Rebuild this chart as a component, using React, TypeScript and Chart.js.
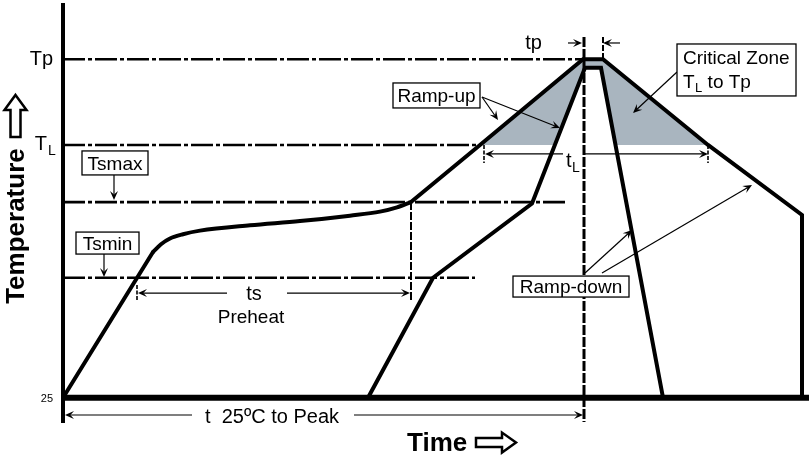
import { useEffect, useRef } from 'react';
import { Chart, registerables } from 'chart.js';

Chart.register(...registerables);

const FONT = '"Liberation Sans", Arial, Helvetica, sans-serif';

// ---- Data (time in s, temperature in °C, schematic) ----
const levelNames = ['Tp', 'TL', 'Tsmax', 'Tsmin'];
const levelTemps = [262, 202, 162, 109];
const levelLineEnds = [260, 208.5, 252.5, 206];

const baseTemp = 25;
const timeMax = 373;

// outer profile: preheat ramp, soak curve, peak profile
const rampTime = [0, 45];
const rampTemp = [25, 127];
const soakTime = [45, 49, 53.5, 60, 68.5, 93.5, 118.5, 143.5, 158.5, 167, 174];
const soakTemp = [127, 132.5, 136.5, 139.5, 142, 145.8, 148.7, 152.5, 155.3, 158.3, 162];
const peakTime = [174, 208.5, 260, 270, 322.5, 369.5, 369.5];
const peakTemp = [162, 202, 262, 262, 202, 153, 25];

const innerTime = [152.5, 185, 234.5, 261, 269, 300];
const innerTemp = [25, 109, 161, 256, 256, 25];

const zoneOuterTime = [208.5, 260, 270, 322.5];
const zoneOuterTemp = [202, 262, 262, 202];
const zoneInnerTime = [246, 261, 269, 276.2];
const zoneInnerTemp = [202, 256, 256, 202];

// vertical markers: [time, fromTemp, toTemp]
const markerTp1 = [260.5, 277.6, 8];
const markerTp2 = [270, 277.6, 262];
const markerTs = [174, 162, 92];

const yTickValues = [25, 202, 262];
const yTickMain = ['25', 'T', 'Tp'];
const yTickSub = ['', 'L', ''];

// ---- Annotations (data units) ----
const pointerArrows = [
  [25.5, 181.0, 25.5, 163.5],
  [20.5, 125.6, 20.5, 109.5],
  [209.5, 235.6, 217.5, 219.5],
  [209.5, 235.6, 248.5, 213.9],
  [307, 253.1, 285, 224.4],
  [261, 112.3, 284.5, 142.4],
  [269.5, 112.3, 344.5, 174.0],
];
const spanArrows = [
  [252.5, 273.4, 259.5, 273.4],
  [278.5, 273.4, 270, 273.4],
  [250, 195.7, 211, 195.7],
  [260.5, 195.7, 322.5, 195.7],
  [82, 98.3, 37.5, 98.3],
  [112, 98.3, 173.5, 98.3],
  [64.5, 12.9, 1, 12.9],
  [145.5, 12.9, 260, 12.9],
];
const spanTicks = [
  [210.5, 202, 210.5, 189.4],
  [322.5, 202, 322.5, 189.4],
  [37, 103.9, 37, 93.4],
];
const boxes = [
  { text: 'Tsmax', x1: 9.5, y1: 197.8, x2: 42.5, y2: 181.0 },
  { text: 'Tsmin', x1: 6.5, y1: 141.0, x2: 38, y2: 125.6 },
  { text: 'Ramp-up', x1: 165, y1: 245.4, x2: 208.5, y2: 227.9 },
  { text: 'Ramp-down', x1: 225, y1: 110.2, x2: 283, y2: 95.5 },
  { text: '', x1: 307, y1: 272.7, x2: 366.5, y2: 236.3 },
];
const labels = [
  { t: 'ts', x: 95.5, y: 93.6, size: 20, align: 'center' },
  { t: 'Preheat', x: 94, y: 77.3, size: 19, align: 'center' },
  { t: 't  25ºC to Peak', x: 104.5, y: 7.3, size: 20, align: 'center' },
  { t: 'tp', x: 235.25, y: 269.2, size: 20, align: 'center' },
  { t: 'Critical Zone', x: 310, y: 259.0, size: 19, align: 'left' },
];
const subLabels = [
  { main: 't', sub: 'L', tail: '', x: 251.5, y: 186.6, ySub: 183.1, size: 20, subSize: 14 },
  { main: 'T', sub: 'L', tail: ' to Tp', x: 310, y: 241.9, ySub: 239.1, size: 19, subSize: 13 },
];
const yTitle = { t: 'Temperature', x: -19.5, y: 145.2, arrowX: -23.75, arrowY: 237 };
const xTitle = { t: 'Time', x: 172, y: -12.3, arrowX: 226.5, arrowY: -6.4 };

const GREY = '#a9b5bf';

function pts(xs: number[], ys: number[]) {
  return xs.map((x, i) => ({ x, y: ys[i] }));
}

function drawHead(ctx: CanvasRenderingContext2D, x1: number, y1: number, x2: number, y2: number) {
  const a = Math.atan2(y2 - y1, x2 - x1);
  const c = Math.cos(a), s = Math.sin(a);
  const len = 9, half = 4;
  const bx = x2 - len * c, by = y2 - len * s;
  const nx = x2 - len * 0.6 * c, ny = y2 - len * 0.6 * s;
  ctx.beginPath();
  ctx.moveTo(x1, y1);
  ctx.lineTo(nx, ny);
  ctx.stroke();
  ctx.beginPath();
  ctx.moveTo(x2, y2);
  ctx.lineTo(bx - half * s, by + half * c);
  ctx.lineTo(nx, ny);
  ctx.lineTo(bx + half * s, by - half * c);
  ctx.closePath();
  ctx.fill();
}

const annotationPlugin = {
  id: 'reflowAnnotations',
  afterDatasetsDraw(chart: any) {
    const { ctx } = chart;
    const xs = chart.scales.x;
    const ys = chart.scales.y;
    const px = (v: number) => xs.getPixelForValue(v);
    const py = (v: number) => ys.getPixelForValue(v);
    ctx.save();
    ctx.fillStyle = '#000';
    ctx.strokeStyle = '#000';
    ctx.lineWidth = 1.2;
    ctx.setLineDash([]);

    for (const a of [...pointerArrows, ...spanArrows]) {
      drawHead(ctx, px(a[0]), py(a[1]), px(a[2]), py(a[3]));
    }
    ctx.lineWidth = 1.6;
    ctx.setLineDash([4, 1.5]);
    for (const t of spanTicks) {
      ctx.beginPath();
      ctx.moveTo(px(t[0]), py(t[1]));
      ctx.lineTo(px(t[2]), py(t[3]));
      ctx.stroke();
    }
    ctx.setLineDash([]);

    for (const b of boxes) {
      const x1 = px(b.x1), x2 = px(b.x2), y1 = py(b.y1), y2 = py(b.y2);
      ctx.fillStyle = '#fff';
      ctx.fillRect(x1, y1, x2 - x1, y2 - y1);
      ctx.strokeStyle = '#000';
      ctx.lineWidth = 1.3;
      ctx.strokeRect(x1, y1, x2 - x1, y2 - y1);
      if (b.text) {
        ctx.fillStyle = '#000';
        ctx.font = `19px ${FONT}`;
        ctx.textAlign = 'center';
        ctx.textBaseline = 'alphabetic';
        ctx.fillText(b.text, (x1 + x2) / 2, (y1 + y2) / 2 + 19 * 0.36);
      }
    }

    ctx.fillStyle = '#000';
    ctx.textBaseline = 'alphabetic';
    for (const l of labels) {
      ctx.font = `${l.size}px ${FONT}`;
      ctx.textAlign = l.align as CanvasTextAlign;
      ctx.fillText(l.t, px(l.x), py(l.y));
    }
    ctx.textAlign = 'left';
    for (const l of subLabels) {
      let x = px(l.x);
      ctx.font = `${l.size}px ${FONT}`;
      ctx.fillText(l.main, x, py(l.y));
      x += ctx.measureText(l.main).width + 0.5;
      ctx.font = `${l.subSize}px ${FONT}`;
      ctx.fillText(l.sub, x, py(l.ySub));
      x += ctx.measureText(l.sub).width;
      if (l.tail) {
        ctx.font = `${l.size}px ${FONT}`;
        ctx.fillText(l.tail, x, py(l.y));
      }
    }

    // y tick labels
    const right = ys.right;
    yTickValues.forEach((v, i) => {
      const y = py(v);
      const main = yTickMain[i];
      const sub = yTickSub[i];
      if (sub) {
        ctx.font = `20px ${FONT}`;
        ctx.textAlign = 'right';
        ctx.fillText(main, right - 16, y + 5);
        ctx.font = `14px ${FONT}`;
        ctx.textAlign = 'left';
        ctx.fillText(sub, right - 15, y + 10);
      } else {
        const size = v === baseTemp ? 11 : 20;
        ctx.font = `${size}px ${FONT}`;
        ctx.textAlign = 'right';
        ctx.fillText(main, right - 10, y + (size === 11 ? 4.5 : 5.5));
      }
    });

    // axis titles
    ctx.font = `bold 26px ${FONT}`;
    ctx.save();
    ctx.translate(px(yTitle.x), py(yTitle.y));
    ctx.rotate(-Math.PI / 2);
    ctx.textAlign = 'center';
    ctx.fillText(yTitle.t, 0, 0);
    ctx.restore();
    ctx.textAlign = 'left';
    ctx.fillText(xTitle.t, px(xTitle.x), py(xTitle.y));

    ctx.lineWidth = 2.5;
    ctx.lineJoin = 'miter';
    {
      const tx = px(yTitle.arrowX), ty = py(yTitle.arrowY);
      const shape = [[0, 0], [11, 15], [5, 15], [5, 42], [-5, 42], [-5, 15], [-11, 15]];
      ctx.beginPath();
      shape.forEach(([dx, dy], i) => (i ? ctx.lineTo(tx + dx, ty + dy) : ctx.moveTo(tx + dx, ty + dy)));
      ctx.closePath();
      ctx.fillStyle = '#fff';
      ctx.fill();
      ctx.stroke();
    }
    {
      const tx = px(xTitle.arrowX), ty = py(xTitle.arrowY);
      const shape = [[0, 0], [-14, -10], [-14, -4.5], [-40, -4.5], [-40, 4.5], [-14, 4.5], [-14, 10]];
      ctx.beginPath();
      shape.forEach(([dx, dy], i) => (i ? ctx.lineTo(tx + dx, ty + dy) : ctx.moveTo(tx + dx, ty + dy)));
      ctx.closePath();
      ctx.fillStyle = '#fff';
      ctx.fill();
      ctx.stroke();
    }
    ctx.restore();
  },
};

export default function App() {
  const ref = useRef<HTMLCanvasElement | null>(null);
  useEffect(() => {
    if (!ref.current) return;
    const refLines = levelNames.map((name, i) => ({
      label: name,
      data: [{ x: 0, y: levelTemps[i] }, { x: levelLineEnds[i], y: levelTemps[i] }],
      borderColor: '#000',
      borderWidth: 2.6,
      borderDash: [22, 3, 4, 3],
      pointRadius: 0,
      fill: false,
      order: 1,
    }));
    const marker = (m: number[], w: number, dash: number[]) => ({
      label: 'marker',
      data: [{ x: m[0], y: m[1] }, { x: m[0], y: m[2] }],
      borderColor: '#000',
      borderWidth: w,
      borderDash: dash,
      pointRadius: 0,
      fill: false,
      order: 1,
    });
    const profile = (label: string, xs: number[], ys: number[], extra: any = {}) => ({
      label,
      data: pts(xs, ys),
      borderColor: '#000',
      borderWidth: 4,
      borderCapStyle: 'round',
      pointRadius: 0,
      fill: false,
      order: 0,
      ...extra,
    });
    const chart = new Chart(ref.current, {
      type: 'line',
      data: {
        datasets: [
          {
            label: 'base',
            data: [{ x: 0, y: baseTemp }, { x: timeMax, y: baseTemp }],
            borderColor: '#000',
            borderWidth: 6,
            pointRadius: 0,
            fill: false,
            order: 0,
          },
          profile('ramp', rampTime, rampTemp),
          profile('soak', soakTime, soakTemp, { cubicInterpolationMode: 'monotone' }),
          profile('peak', peakTime, peakTemp),
          profile('inner', innerTime, innerTemp),
          ...refLines,
          marker(markerTp1, 3, [10, 2]),
          marker(markerTp2, 2, [6, 2]),
          marker(markerTs, 2, [8, 2]),
          {
            label: 'zoneInner',
            data: pts(zoneInnerTime, zoneInnerTemp),
            borderWidth: 0,
            borderColor: 'rgba(0,0,0,0)',
            backgroundColor: '#ffffff',
            pointRadius: 0,
            fill: { value: levelTemps[1] },
            order: 2,
          },
          {
            label: 'zoneOuter',
            data: pts(zoneOuterTime, zoneOuterTemp),
            borderWidth: 0,
            borderColor: 'rgba(0,0,0,0)',
            backgroundColor: GREY,
            pointRadius: 0,
            fill: { value: levelTemps[1] },
            order: 3,
          },
        ],
      },
      options: {
        responsive: false,
        animation: false,
        layout: { padding: { left: 0, right: 0, top: 5, bottom: 35 } },
        plugins: { legend: { display: false }, tooltip: { enabled: false } },
        elements: { line: { tension: 0, borderJoinStyle: 'miter' } },
        scales: {
          x: { type: 'linear', min: 0, max: timeMax, display: false },
          y: {
            type: 'linear',
            min: 8,
            max: 300,
            grid: { display: false, drawTicks: false },
            ticks: { display: false },
            border: { display: true, width: 4, color: '#000' },
            afterFit: (s: any) => {
              s.width = 63;
            },
          },
        },
      } as any,
      plugins: [annotationPlugin],
    });
    return () => chart.destroy();
  }, []);
  return (
    <div style={{ position: 'fixed', left: 0, top: 0, width: 809, height: 457, background: '#fff' }}>
      <canvas ref={ref} width={809} height={457} style={{ display: 'block' }} />
    </div>
  );
}
